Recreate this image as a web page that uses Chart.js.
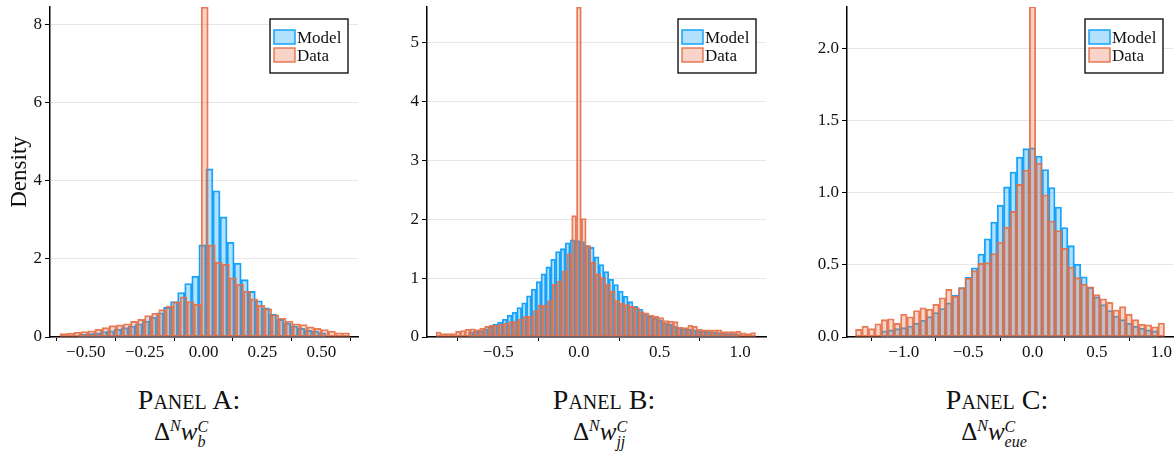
<!DOCTYPE html>
<html lang="en">
<head>
    <meta charset="UTF-8">
    <title>Model vs Data histograms</title>
    <script src="https://cdn.jsdelivr.net/npm/chart.js"></script>
    <style>
        body {
            margin: 0;
            background: #fff;
            width: 1175px;
            height: 458px;
            position: relative;
            overflow: hidden;
            font-family: 'Liberation Serif', serif;
            color: #111;
        }
        canvas { position: absolute; top: 0; }
        #chartA { left: 0; }
        #chartB { left: 380px; }
        #chartC { left: 780px; }

        /* captions under each panel */
        .cap {
            position: absolute;
            width: 240px;
            margin-left: -120px;
            text-align: center;
            white-space: nowrap;
        }
        .panel { top: 385px; font-size: 28px; line-height: 30px; font-variant: small-caps; }
        .math { top: 417px; font-size: 25px; line-height: 30px; }
        .math sup { font-size: 16px; vertical-align: 9px; line-height: 0; font-style: italic; }
        .ss { display: inline-block; font-size: 16px; line-height: 15px; vertical-align: -7px; text-align: left; font-style: italic; }
        .ss span { display: block; }
    </style>
</head>
<body>
    <canvas id="chartA" width="362" height="372"></canvas>
    <canvas id="chartB" width="390" height="372"></canvas>
    <canvas id="chartC" width="395" height="372"></canvas>

    <div class="cap panel" style="left:189px">Panel A:</div>
    <div class="cap math" style="left:181px">Δ<sup>N</sup><i>w</i><span class="ss"><span>C</span><span>b</span></span></div>
    <div class="cap panel" style="left:604px">Panel B:</div>
    <div class="cap math" style="left:600px">Δ<sup>N</sup><i>w</i><span class="ss"><span>C</span><span>jj</span></span></div>
    <div class="cap panel" style="left:997px">Panel C:</div>
    <div class="cap math" style="left:994px">Δ<sup>N</sup><i>w</i><span class="ss"><span>C</span><span>eue</span></span></div>

    <script>
        // ---- Panel A: bins of 0.03 ----
        const binWidthA = 0.03;
        const dataStartA = -0.61;
        const modelStartA = -0.53;
        const dataA = [0.09, 0.10, 0.12, 0.14, 0.16, 0.20, 0.24, 0.29, 0.31, 0.34,
            0.40, 0.45, 0.55, 0.61, 0.70, 0.79, 0.90, 1.03, 0.91, 0.84,
            8.46, 2.36, 1.92, 1.86, 1.52, 1.35, 1.18, 0.98, 0.81, 0.72,
            0.57, 0.48, 0.41, 0.34, 0.32, 0.26, 0.22, 0.19, 0.15, 0.11, 0.11];
        const modelA = [0.07, 0.09, 0.10, 0.14, 0.16, 0.20, 0.24, 0.28, 0.34, 0.41,
            0.51, 0.62, 0.76, 0.91, 1.14, 1.37, 1.56, 2.36, 4.31, 3.75,
            3.08, 2.43, 1.89, 1.47, 1.17, 0.93, 0.75, 0.58, 0.45, 0.36,
            0.28, 0.22, 0.17, 0.15, 0.11];
        const xTicksA = [-0.5, -0.25, 0, 0.25, 0.5];
        const xLabelsA = ['−0.50', '−0.25', '0.00', '0.25', '0.50'];
        const yTicksA = [0, 2, 4, 6, 8];
        const yLabelsA = ['0', '2', '4', '6', '8'];

        // ---- Panel B: bins of 0.03 ----
        const binWidthB = 0.03;
        const dataStartB = -0.885;
        const modelStartB = -0.685;
        const dataB = [0.085, 0.057, 0.057, 0.06, 0.10, 0.11, 0.13, 0.14, 0.125, 0.15,
            0.18, 0.20, 0.20, 0.22, 0.23, 0.26, 0.27, 0.31, 0.35, 0.35,
            0.45, 0.54, 0.54, 0.62, 0.90, 0.95, 1.12, 1.41, 2.06, 5.60,
            2.01, 1.55, 1.27, 1.07, 1.01, 0.90, 0.78, 0.62, 0.57, 0.55,
            0.52, 0.50, 0.43, 0.41, 0.37, 0.35, 0.33, 0.28, 0.27, 0.26,
            0.17, 0.16, 0.20, 0.18, 0.13, 0.12, 0.12, 0.12, 0.12, 0.09,
            0.09, 0.09, 0.10, 0.07, 0.06, 0.075];
        const modelB = [0.085, 0.10, 0.11, 0.14, 0.18, 0.22, 0.25, 0.30, 0.37, 0.42,
            0.50, 0.58, 0.70, 0.81, 0.94, 1.07, 1.19, 1.32, 1.45, 1.50,
            1.60, 1.65, 1.635, 1.62, 1.55, 1.52, 1.36, 1.23, 1.11, 0.98,
            0.89, 0.78, 0.69, 0.60, 0.52, 0.47, 0.39, 0.35, 0.32, 0.29,
            0.24, 0.22, 0.18, 0.16, 0.14, 0.13, 0.12, 0.11, 0.10, 0.09,
            0.085, 0.075, 0.07, 0.06, 0.057, 0.05];
        const xTicksB = [-0.5, 0, 0.5, 1.0];
        const xLabelsB = ['−0.5', '0.0', '0.5', '1.0'];
        const yTicksB = [0, 1, 2, 3, 4, 5];
        const yLabelsB = ['0', '1', '2', '3', '4', '5'];

        // ---- Panel C: bins of 0.05 ----
        const binWidthC = 0.05;
        const dataStartC = -1.375;
        const modelStartC = -1.175;
        const dataC = [0.053, 0.075, 0.058, 0.092, 0.12, 0.126, 0.094, 0.157, 0.14, 0.183,
            0.202, 0.192, 0.227, 0.272, 0.33, 0.283, 0.342, 0.407, 0.46, 0.51,
            0.516, 0.578, 0.656, 0.76, 0.87, 1.057, 1.157, 2.29, 1.203, 0.985,
            0.803, 0.738, 0.614, 0.485, 0.411, 0.366, 0.348, 0.293, 0.265, 0.24,
            0.187, 0.21, 0.158, 0.12, 0.088, 0.085, 0.071, 0.097];
        const modelC = [0.042, 0.049, 0.058, 0.065, 0.076, 0.095, 0.116, 0.141, 0.17, 0.197,
            0.236, 0.29, 0.343, 0.413, 0.48, 0.575, 0.68, 0.796, 0.913, 1.04,
            1.143, 1.247, 1.305, 1.31, 1.254, 1.16, 1.035, 0.90, 0.758, 0.633,
            0.505, 0.417, 0.345, 0.278, 0.224, 0.183, 0.145, 0.12, 0.095, 0.075,
            0.06, 0.049, 0.042];
        const xTicksC = [-1.0, -0.5, 0, 0.5, 1.0];
        const xLabelsC = ['−1.0', '−0.5', '0.0', '0.5', '1.0'];
        const yTicksC = [0, 0.5, 1.0, 1.5, 2.0];
        const yLabelsC = ['0.0', '0.5', '1.0', '1.5', '2.0'];

        const BLUE = 'rgba(0,154,250,0.9)';
        const ORANGE = 'rgba(227,111,71,0.9)';
        const tickFont = { family: 'Liberation Serif', size: 17 };

        // bin centres from the bin edges
        function toPoints(start, width, vals) {
            return vals.map((v, i) => ({ x: start + width * (i + 0.5), y: v }));
        }

        // legend box drawn inside the plot, top right
        const boxLegend = {
            id: 'boxLegend',
            afterDraw(chart) {
                const { ctx, chartArea } = chart;
                const w = 78, h = 54;
                const x = chartArea.right - 10 - w;
                const y = chartArea.top + 12;
                ctx.save();
                ctx.fillStyle = '#fff';
                ctx.fillRect(x, y, w, h);
                ctx.strokeStyle = '#000';
                ctx.lineWidth = 1.3;
                ctx.strokeRect(x, y, w, h);
                ctx.font = '17px "Liberation Serif"';
                chart.data.datasets.forEach((ds, i) => {
                    const sy = y + 11 + i * 18;
                    ctx.fillStyle = ds.backgroundColor;
                    ctx.fillRect(x + 4, sy, 21, 14);
                    ctx.strokeStyle = ds.borderColor;
                    ctx.lineWidth = 1.5;
                    ctx.strokeRect(x + 4, sy, 21, 14);
                    ctx.fillStyle = '#111';
                    ctx.fillText(ds.label, x + 27, sy + 13);
                });
                ctx.restore();
            }
        };

        function makePanel(id, cfg) {
            const pick = (ticks, labels) => v => {
                const i = ticks.findIndex(t => Math.abs(t - v) < 1e-9);
                return i >= 0 ? labels[i] : '';
            };
            const barStyle = {
                barPercentage: 1,
                categoryPercentage: 1,
                grouped: false,
                borderWidth: 1.2,
                borderSkipped: false
            };
            return new Chart(document.getElementById(id), {
                type: 'bar',
                data: {
                    datasets: [
                        Object.assign({
                            label: 'Model',
                            data: toPoints(cfg.modelStart, cfg.bin, cfg.model),
                            backgroundColor: 'rgba(0,154,250,0.3)',
                            borderColor: BLUE,
                            xAxisID: 'x2',
                            order: 1
                        }, barStyle),
                        Object.assign({
                            label: 'Data',
                            data: toPoints(cfg.dataStart, cfg.bin, cfg.data),
                            backgroundColor: 'rgba(227,111,71,0.3)',
                            borderColor: ORANGE,
                            xAxisID: 'x',
                            order: 0
                        }, barStyle)
                    ]
                },
                options: {
                    responsive: false,
                    animation: false,
                    devicePixelRatio: 1,
                    layout: { padding: { top: 7, right: cfg.padRight, bottom: 5, left: 0 } },
                    plugins: { legend: { display: false }, tooltip: { enabled: false } },
                    scales: {
                        x: {
                            type: 'linear',
                            min: cfg.xMin, max: cfg.xMax,
                            offset: false,
                            border: { color: '#000', width: 1.5 },
                            grid: { drawOnChartArea: false, tickColor: '#000', tickLength: 4 },
                            ticks: { font: tickFont, color: '#111', padding: 1, maxRotation: 0,
                                callback: pick(cfg.xTicks, cfg.xLabels) },
                            afterBuildTicks: s => { s.ticks = cfg.xTicks.map(v => ({ value: v })); },
                            afterFit: s => { s.height = 30; s.paddingLeft = 0; s.paddingRight = 0; }
                        },
                        x2: {
                            type: 'linear',
                            display: false,
                            min: cfg.xMin, max: cfg.xMax,
                            offset: false
                        },
                        y: {
                            min: 0, max: cfg.yMax,
                            border: { color: '#000', width: 1.5 },
                            grid: { color: '#e6e6e6', tickColor: '#000', tickLength: 5 },
                            ticks: { font: tickFont, color: '#111', padding: 3,
                                callback: pick(cfg.yTicks, cfg.yLabels) },
                            title: cfg.yTitle ? {
                                display: true, text: cfg.yTitle, color: '#111',
                                font: { family: 'Liberation Serif', size: 23 },
                                padding: { top: 6, bottom: 0 }
                            } : { display: false },
                            afterBuildTicks: s => { s.ticks = cfg.yTicks.map(v => ({ value: v })); },
                            afterFit: s => { s.width = cfg.yWidth; s.paddingTop = 0; s.paddingBottom = 0; }
                        }
                    }
                },
                plugins: [boxLegend]
            });
        }

        makePanel('chartA', {
            bin: binWidthA, dataStart: dataStartA, modelStart: modelStartA,
            data: dataA, model: modelA,
            xMin: -0.652, xMax: 0.656, yMax: 8.46,
            xTicks: xTicksA, xLabels: xLabelsA, yTicks: yTicksA, yLabels: yLabelsA,
            yTitle: 'Density', yWidth: 50, padRight: 4
        });
        makePanel('chartB', {
            bin: binWidthB, dataStart: dataStartB, modelStart: modelStartB,
            data: dataB, model: modelB,
            xMin: -0.942, xMax: 1.16, yMax: 5.6,
            xTicks: xTicksB, xLabels: xLabelsB, yTicks: yTicksB, yLabels: yLabelsB,
            yTitle: null, yWidth: 47, padRight: 4
        });
        makePanel('chartC', {
            bin: binWidthC, dataStart: dataStartC, modelStart: modelStartC,
            data: dataC, model: modelC,
            xMin: -1.441, xMax: 1.091, yMax: 2.286,
            xTicks: xTicksC, xLabels: xLabelsC, yTicks: yTicksC, yLabels: yLabelsC,
            yTitle: null, yWidth: 67, padRight: 2
        });
    </script>
</body>
</html>
